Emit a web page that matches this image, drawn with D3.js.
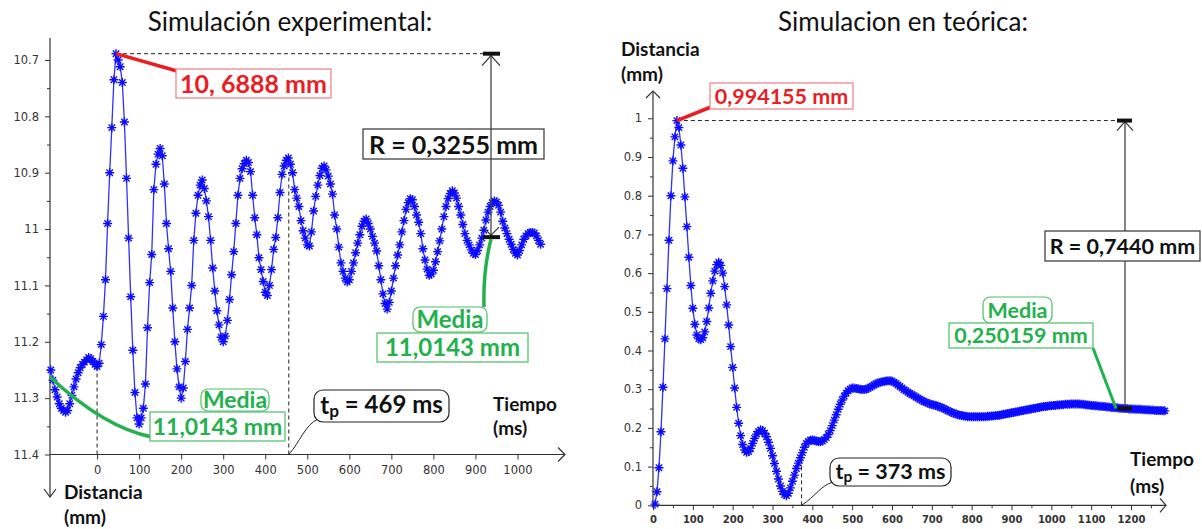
<!DOCTYPE html>
<html>
<head>
<meta charset="utf-8">
<script src="https://cdn.jsdelivr.net/npm/d3@7"></script>
<style>
  body { margin: 0; background: #fff; }
  svg text { font-family: Lato, "Open Sans", sans-serif; }
  .tick text { font-family: "DejaVu Sans", Verdana, sans-serif; fill: #333; }
</style>
</head>
<body>
<svg id="chart" width="1202" height="529"></svg>
<script>
// ---------- data ----------
// left panel: measured distance (mm), one sample every 5 ms starting at -110 ms
const leftStartMs = -110, leftStepMs = 5;
const leftDist = [
  11.250, 11.268, 11.285, 11.298, 11.310, 11.318, 11.322, 11.325, 11.322, 11.310,
  11.295, 11.280, 11.266, 11.255, 11.246, 11.240, 11.236, 11.232, 11.228, 11.230,
  11.235, 11.240, 11.244, 11.238, 11.205, 11.155, 11.090, 10.990, 10.900, 10.820,
  10.735, 10.689, 10.700, 10.712, 10.740, 10.810, 10.910, 11.016, 11.120, 11.215,
  11.290, 11.335, 11.346, 11.335, 11.318, 11.275, 11.175, 11.095, 11.045, 10.930,
  10.885, 10.867, 10.857, 10.870, 10.920, 10.990, 11.035, 11.075, 11.140, 11.200,
  11.248, 11.280, 11.300, 11.282, 11.235, 11.178, 11.140, 11.100, 11.020, 10.972,
  10.940, 10.922, 10.913, 10.928, 10.950, 10.978, 11.020, 11.069, 11.110, 11.145,
  11.170, 11.192, 11.200, 11.190, 11.162, 11.125, 11.081, 11.040, 10.990, 10.940,
  10.910, 10.893, 10.884, 10.878, 10.882, 10.898, 10.940, 10.980, 11.010, 11.051,
  11.072, 11.093, 11.112, 11.118, 11.100, 11.072, 11.036, 11.015, 10.980, 10.935,
  10.903, 10.888, 10.878, 10.874, 10.885, 10.900, 10.930, 10.945, 10.960, 10.985,
  11.003, 11.016, 11.028, 11.030, 11.005, 10.968, 10.942, 10.922, 10.905, 10.892,
  10.888, 10.895, 10.906, 10.920, 10.938, 10.975, 11.000, 11.032, 11.060, 11.075,
  11.087, 11.094, 11.090, 11.075, 11.060, 11.042, 11.025, 11.010, 10.995, 10.986,
  10.982, 10.990, 11.000, 11.013, 11.025, 11.039, 11.065, 11.090, 11.115, 11.132,
  11.142, 11.130, 11.110, 11.087, 11.065, 11.046, 11.028, 11.005, 10.985, 10.965,
  10.953, 10.946, 10.948, 10.960, 10.975, 10.988, 11.008, 11.035, 11.055, 11.071,
  11.082, 11.080, 11.073, 11.058, 11.040, 11.021, 11.000, 10.978, 10.960, 10.946,
  10.937, 10.932, 10.936, 10.945, 10.960, 10.975, 10.992, 11.008, 11.020, 11.028,
  11.037, 11.043, 11.045, 11.038, 11.028, 11.016, 11.002, 10.984, 10.970, 10.960,
  10.953, 10.950, 10.952, 10.958, 10.970, 10.986, 10.998, 11.008, 11.018, 11.027,
  11.036, 11.043, 11.046, 11.038, 11.028, 11.018, 11.012, 11.008, 11.006, 11.006,
  11.007, 11.012, 11.020, 11.027
];

// right panel: theoretical distance (mm), one sample every 5 ms starting at 5 ms
const rightStartMs = 5, rightStepMs = 5;
const rightDist = [
  0.003, 0.035, 0.097, 0.190, 0.305, 0.430, 0.560, 0.685, 0.800, 0.890,
  0.952, 0.994, 0.976, 0.931, 0.871, 0.797, 0.720, 0.641, 0.568, 0.509,
  0.468, 0.440, 0.430, 0.428, 0.433, 0.448, 0.475, 0.510, 0.548, 0.580,
  0.605, 0.622, 0.628, 0.620, 0.600, 0.565, 0.518, 0.466, 0.410, 0.356,
  0.303, 0.253, 0.212, 0.180, 0.157, 0.143, 0.137, 0.139, 0.147, 0.160,
  0.173, 0.184, 0.191, 0.195, 0.193, 0.186, 0.177, 0.163, 0.147, 0.128,
  0.108, 0.088, 0.068, 0.050, 0.036, 0.028, 0.025, 0.031, 0.045, 0.062,
  0.078, 0.095, 0.109, 0.123, 0.136, 0.150, 0.160, 0.165, 0.168, 0.169,
  0.168, 0.166, 0.165, 0.164, 0.166, 0.170, 0.175, 0.183, 0.193, 0.206,
  0.220, 0.234, 0.248, 0.261, 0.272, 0.282, 0.290, 0.296, 0.300, 0.303,
  0.303, 0.302, 0.301, 0.300, 0.299, 0.299, 0.300, 0.302, 0.305, 0.308,
  0.311, 0.314, 0.316, 0.318, 0.319, 0.320, 0.321, 0.322, 0.322, 0.321,
  0.318, 0.315, 0.311, 0.307, 0.303, 0.299, 0.296, 0.292, 0.289, 0.286,
  0.283, 0.280, 0.277, 0.274, 0.271, 0.268, 0.266, 0.264, 0.262, 0.260,
  0.259, 0.258, 0.256, 0.254, 0.252, 0.250, 0.247, 0.245, 0.242, 0.240,
  0.238, 0.236, 0.234, 0.233, 0.232, 0.231, 0.230, 0.229, 0.229, 0.229,
  0.229, 0.229, 0.229, 0.229, 0.229, 0.229, 0.229, 0.230, 0.230, 0.231,
  0.231, 0.232, 0.232, 0.233, 0.234, 0.235, 0.236, 0.237, 0.238, 0.239,
  0.240, 0.241, 0.242, 0.243, 0.244, 0.245, 0.246, 0.247, 0.248, 0.249,
  0.250, 0.251, 0.252, 0.253, 0.254, 0.255, 0.255, 0.256, 0.257, 0.257,
  0.258, 0.258, 0.259, 0.259, 0.260, 0.260, 0.261, 0.261, 0.261, 0.262,
  0.262, 0.262, 0.262, 0.262, 0.261, 0.261, 0.260, 0.259, 0.259, 0.258,
  0.258, 0.257, 0.257, 0.256, 0.256, 0.255, 0.255, 0.254, 0.254, 0.253,
  0.253, 0.252, 0.252, 0.251, 0.251, 0.250, 0.250, 0.250, 0.249, 0.249,
  0.249, 0.248, 0.248, 0.248, 0.248, 0.247, 0.247, 0.247, 0.246, 0.246,
  0.246, 0.245, 0.245, 0.245, 0.245, 0.244, 0.244
];

// ticks
const leftXTicks = [0, 100, 200, 300, 400, 500, 600, 700, 800, 900, 1000];
const leftYTicks = [10.7, 10.8, 10.9, 11, 11.1, 11.2, 11.3, 11.4];
const leftYLabels = ["10.7", "10.8", "10.9", "11", "11.1", "11.2", "11.3", "11.4"];
const leftYMinor = [10.75, 10.85, 10.95, 11.05, 11.15, 11.25, 11.35];
const rightXTicks = [0, 100, 200, 300, 400, 500, 600, 700, 800, 900, 1000, 1100, 1200];
const rightXMinor = [50, 150, 250, 350, 450, 550, 650, 750, 850, 950, 1050, 1150, 1250];
const rightYTicks = [0, 0.1, 0.2, 0.3, 0.4, 0.5, 0.6, 0.7, 0.8, 0.9, 1];
const rightYLabels = ["0", "0.1", "0.2", "0.3", "0.4", "0.5", "0.6", "0.7", "0.8", "0.9", "1"];
const rightYMinor = [0.05, 0.15, 0.25, 0.35, 0.45, 0.55, 0.65, 0.75, 0.85, 0.95];

// annotated values
const leftPeak = { t: 45, v: 10.6888 };
const leftMean = 11.0143;
const leftTpLine = 456;        // where the dashed t_p marker is drawn
const rightPeak = { t: 60, v: 0.994155 };
const rightMean = 0.250159;
const rightTpLine = 373;

const leftSeries = leftDist.map((v, i) => ({ t: leftStartMs + i * leftStepMs, v }));
const rightSeries = rightDist.map((v, i) => ({ t: rightStartMs + i * rightStepMs, v }));

// ---------- drawing ----------
const svg = d3.select("#chart");
const RED = "#ec1c24", GREEN = "#22b14c", BLUE_M = "#0b0bff", BLUE_L = "#3030ff";
const STAR = "M-4.5,0H4.5M0,-4.5V4.5M-3.2,-3.2L3.2,3.2M-3.2,3.2L3.2,-3.2";

// scales
const xL = d3.scaleLinear().domain([-112, 1113]).range([50, 565]);
const yL = d3.scaleLinear().domain([10.7, 11.4]).range([60, 454.5]);
const xR = d3.scaleLinear().domain([0, 1200]).range([653, 1131]);
const yR = d3.scaleLinear().domain([0, 1]).range([505.3, 118.3]);

function chevron(g, pts) {
  g.append("path").attr("d", d3.line()(pts))
    .attr("fill", "none").attr("stroke", "#333").attr("stroke-width", 1.2);
}

function drawAxes(x, y, xTicks, xMinor, yTicks, yLabels, yMinor, x0, y0, boldX) {
  const g = svg.append("g");
  const ax = g.append("g").attr("transform", `translate(0,${y0})`)
    .call(d3.axisBottom(x).tickValues(xTicks).tickSize(5).tickPadding(6).tickFormat(d => d));
  ax.select(".domain").remove();
  ax.selectAll(".tick text").style("font-size", boldX ? "10px" : "11.5px")
    .style("font-weight", boldX ? "bold" : "normal");
  if (xMinor) {
    const am = g.append("g").attr("transform", `translate(0,${y0})`)
      .call(d3.axisBottom(x).tickValues(xMinor).tickSize(3).tickFormat(""));
    am.select(".domain").remove();
  }
  const ay = g.append("g").attr("transform", `translate(${x0},0)`)
    .call(d3.axisLeft(y).tickValues(yTicks).tickSize(5).tickPadding(6).tickFormat((d, i) => yLabels[i]));
  ay.select(".domain").remove();
  ay.selectAll(".tick text").style("font-size", "11.5px");
  const aym = g.append("g").attr("transform", `translate(${x0},0)`)
    .call(d3.axisLeft(y).tickValues(yMinor).tickSize(3).tickFormat(""));
  aym.select(".domain").remove();
  g.selectAll(".tick line").attr("stroke", "#333");
  return g;
}

function drawSeries(data, x, y) {
  const g = svg.append("g");
  g.append("path").datum(data)
    .attr("d", d3.line().x(d => x(d.t)).y(d => y(d.v)))
    .attr("fill", "none").attr("stroke", BLUE_L).attr("stroke-width", 1.3);
  g.selectAll("path.m").data(data).join("path").attr("class", "m")
    .attr("transform", d => `translate(${x(d.t)},${y(d.v)})`)
    .attr("d", STAR).attr("fill", "none").attr("stroke", BLUE_M).attr("stroke-width", 1.4);
}

function box(x, y, w, h, stroke, rx) {
  svg.append("rect").attr("x", x).attr("y", y).attr("width", w).attr("height", h)
    .attr("rx", rx || 0).attr("fill", "#fff").attr("stroke", stroke).attr("stroke-width", 1.2);
}
function label(x, y, txt, color, size) {
  return svg.append("text").attr("x", x).attr("y", y).attr("dy", "0.36em")
    .attr("text-anchor", "middle").attr("fill", color)
    .style("font-size", size + "px").style("font-weight", "bold").text(txt);
}
function tpLabel(x, y, val, size) {
  const t = svg.append("text").attr("x", x).attr("y", y).attr("dy", "0.36em")
    .attr("text-anchor", "middle").attr("fill", "#111")
    .style("font-size", size + "px").style("font-weight", "bold");
  t.append("tspan").text("t");
  t.append("tspan").attr("dy", "0.2em").style("font-size", (size * 0.72) + "px").text("p");
  t.append("tspan").attr("dy", "-0.15em").text(" = " + val + " ms");
}
function dashed(x1, y1, x2, y2) {
  svg.append("line").attr("x1", x1).attr("y1", y1).attr("x2", x2).attr("y2", y2)
    .attr("stroke", "#222").attr("stroke-width", 1).attr("stroke-dasharray", "4,3");
}
function axisName(x, y, txt) {
  svg.append("text").attr("x", x).attr("y", y).style("font-size", "19px")
    .style("font-weight", "bold").attr("fill", "#111").text(txt);
}

// titles
svg.append("text").attr("x", 290).attr("y", 31).attr("text-anchor", "middle")
  .style("font-size", "26px").attr("fill", "#111").text("Simulación experimental:");
svg.append("text").attr("x", 903).attr("y", 31).attr("text-anchor", "middle")
  .style("font-size", "26px").attr("fill", "#111").text("Simulacion en teórica:");

// ===== left panel =====
drawAxes(xL, yL, leftXTicks, null, leftYTicks, leftYLabels, leftYMinor, xL(-112), yL(11.4), false);
const axL = svg.append("g");
axL.append("line").attr("x1", 50).attr("x2", 50).attr("y1", 38).attr("y2", 497).attr("stroke", "#333").attr("stroke-width", 1.2);
axL.append("line").attr("x1", 50).attr("x2", 565).attr("y1", yL(11.4)).attr("y2", yL(11.4)).attr("stroke", "#333").attr("stroke-width", 1.2);
chevron(axL, [[44, 489], [50, 497], [56, 489]]);
chevron(axL, [[558, yL(11.4) - 7], [565, yL(11.4)], [558, yL(11.4) + 7]]);
axisName(64, 499, "Distancia");
axisName(64, 524, "(mm)");
axisName(493, 411, "Tiempo");
axisName(493, 435, "(ms)");

// dashed guides
dashed(xL(0), yL(11.4), xL(0), yL(11.244));
dashed(xL(leftTpLine), yL(11.4), xL(leftTpLine), yL(10.9));
dashed(xL(leftPeak.t), yL(leftPeak.v), 491, yL(leftPeak.v));

drawSeries(leftSeries, xL, yL);

// bottom-left mean annotation
svg.append("path").attr("d", `M${xL(-112)},377 Q105,428 152,437`)
  .attr("fill", "none").attr("stroke", GREEN).attr("stroke-width", 3.5);
box(201, 389, 68, 22, "#4cbf66", 7);
label(235, 400, "Media", GREEN, 23);
box(150, 412, 135, 29, "#4cbf66");
label(217.5, 427, "11,0143 mm", GREEN, 23);

// peak
svg.append("line").attr("x1", xL(leftPeak.t)).attr("y1", yL(leftPeak.v)).attr("x2", 177).attr("y2", 71)
  .attr("stroke", RED).attr("stroke-width", 3.5);
box(176, 69, 155, 29, "#f27c82");
label(253.5, 84, "10, 6888 mm", RED, 25);

// range marker
box(363, 129, 181, 30, "#333");
label(453.5, 144.5, "R = 0,3255 mm", "#111", 25);
const yTop = yL(leftPeak.v), yBot = yL(leftMean);
svg.append("line").attr("x1", 491).attr("x2", 491).attr("y1", yTop).attr("y2", yBot).attr("stroke", "#444").attr("stroke-width", 1.3);
chevron(svg, [[482, yTop + 12], [491, yTop + 2], [500, yTop + 12]]);
chevron(svg, [[483, yBot - 10], [491, yBot - 2], [499, yBot - 10]]);
svg.append("rect").attr("x", 483).attr("y", yTop - 2).attr("width", 17).attr("height", 4).attr("fill", "#111");
svg.append("rect").attr("x", 483).attr("y", yBot - 2).attr("width", 17).attr("height", 4).attr("fill", "#111");
svg.append("path").attr("d", `M491,${yBot + 2} Q483,270 484,307`)
  .attr("fill", "none").attr("stroke", GREEN).attr("stroke-width", 3.5);
box(413, 307, 74, 25, "#4cbf66", 7);
label(450, 319.5, "Media", GREEN, 24);
box(377, 333, 151, 29, "#4cbf66");
label(452.5, 347.5, "11,0143 mm", GREEN, 24);

// t_p
svg.append("path").attr("d", `M318,419 C305,425 300,442 ${xL(leftTpLine)},${yL(11.4)}`)
  .attr("fill", "none").attr("stroke", "#222").attr("stroke-width", 1);
box(314, 390, 135, 32, "#222", 9);
tpLabel(381.5, 405, 469, 24);

// ===== right panel =====
drawAxes(xR, yR, rightXTicks, rightXMinor, rightYTicks, rightYLabels, rightYMinor, xR(0), yR(0), true);
const axR = svg.append("g");
axR.append("line").attr("x1", xR(0)).attr("x2", xR(0)).attr("y1", 91).attr("y2", yR(0)).attr("stroke", "#333").attr("stroke-width", 1.2);
axR.append("line").attr("x1", xR(0)).attr("x2", 1166).attr("y1", yR(0)).attr("y2", yR(0)).attr("stroke", "#333").attr("stroke-width", 1.2);
chevron(axR, [[646, 98], [xR(0), 91], [660, 98]]);
chevron(axR, [[1160, yR(0) - 7], [1166, yR(0)], [1160, yR(0) + 7]]);
axisName(621, 56, "Distancia");
axisName(621, 81, "(mm)");
axisName(1130, 466, "Tiempo");
axisName(1130, 493, "(ms)");

dashed(xR(rightPeak.t), yR(rightPeak.v), 1125, yR(rightPeak.v));
dashed(xR(rightTpLine), yR(0), xR(rightTpLine), yR(0.12));

drawSeries(rightSeries, xR, yR);

// peak
svg.append("line").attr("x1", xR(rightPeak.t)).attr("y1", yR(rightPeak.v)).attr("x2", 711).attr("y2", 107)
  .attr("stroke", RED).attr("stroke-width", 3.5);
box(710, 83, 143, 26, "#f27c82");
label(781.5, 96, "0,994155 mm", RED, 21.5);

// range marker
const yTopR = yR(rightPeak.v), yBotR = yR(rightMean);
svg.append("line").attr("x1", 1125).attr("x2", 1125).attr("y1", yTopR).attr("y2", yBotR).attr("stroke", "#444").attr("stroke-width", 1.3);
chevron(svg, [[1117, yTopR + 10], [1125, yTopR + 1], [1133, yTopR + 10]]);
svg.append("rect").attr("x", 1117).attr("y", yTopR - 2).attr("width", 15).attr("height", 4).attr("fill", "#111");
svg.append("rect").attr("x", 1117).attr("y", yBotR - 2).attr("width", 15).attr("height", 4).attr("fill", "#111");
box(1045, 231, 155, 30, "#333");
label(1122.5, 246, "R = 0,7440 mm", "#111", 21.5);

// mean
svg.append("line").attr("x1", 1116).attr("y1", yBotR).attr("x2", 1093).attr("y2", 348)
  .attr("stroke", GREEN).attr("stroke-width", 3);
box(983, 297, 69, 26, "#4cbf66", 7);
label(1017.5, 310, "Media", GREEN, 21.5);
box(949, 323, 144, 25, "#4cbf66");
label(1021, 335.5, "0,250159 mm", GREEN, 21.5);

// t_p
svg.append("path").attr("d", `M833,482 C820,486 816,496 ${xR(rightTpLine)},${yR(0)}`)
  .attr("fill", "none").attr("stroke", "#222").attr("stroke-width", 1);
box(830, 458, 121, 28, "#222", 9);
tpLabel(890.5, 471, 373, 21.5);
</script>
</body>
</html>
